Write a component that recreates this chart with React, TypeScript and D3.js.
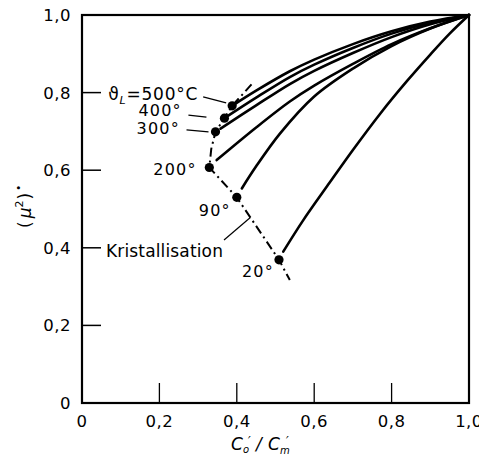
import React from 'react';
import * as d3 from 'd3';

// Axis ticks
const xTicks = [0, 0.2, 0.4, 0.6, 0.8, 1.0];
const yTicks = [0, 0.2, 0.4, 0.6, 0.8, 1.0];

// Melt temperature series: [C'o/C'm, (mu^2)*]
const curve500: [number, number][] = [
  [0.388, 0.766], [0.45, 0.805], [0.537, 0.855], [0.6, 0.885], [0.7, 0.925],
  [0.8, 0.958], [0.9, 0.983], [1.0, 1.0],
];
const curve400: [number, number][] = [
  [0.368, 0.734], [0.45, 0.787], [0.537, 0.84], [0.6, 0.872], [0.7, 0.915],
  [0.8, 0.952], [0.9, 0.98], [1.0, 1.0],
];
const curve300: [number, number][] = [
  [0.358, 0.707], [0.45, 0.767], [0.537, 0.822], [0.6, 0.856], [0.7, 0.902],
  [0.8, 0.943], [0.9, 0.976], [1.0, 1.0],
];
const curve200: [number, number][] = [
  [0.348, 0.626], [0.45, 0.71], [0.537, 0.777], [0.6, 0.818], [0.7, 0.874],
  [0.8, 0.925], [0.9, 0.966], [1.0, 1.0],
];
const curve90: [number, number][] = [
  [0.413, 0.553], [0.45, 0.61], [0.512, 0.695], [0.6, 0.79], [0.7, 0.862],
  [0.8, 0.92], [0.9, 0.965], [1.0, 1.0],
];
const curve20: [number, number][] = [
  [0.52, 0.39], [0.571, 0.47], [0.64, 0.568], [0.7, 0.652], [0.77, 0.745],
  [0.84, 0.83], [0.9, 0.898], [0.95, 0.952], [1.0, 1.0],
];

// Crystallisation line (dash-dot)
const crystallisation: [number, number][] = [
  [0.438, 0.821], [0.388, 0.766], [0.368, 0.734], [0.345, 0.699], [0.334, 0.655],
  [0.329, 0.607], [0.4, 0.53], [0.509, 0.369], [0.537, 0.317],
];

// Onset points with labels
const onsetLabels = ['500°C', '400°', '300°', '200°', '90°', '20°'];
const onsetX = [0.388, 0.368, 0.345, 0.329, 0.4, 0.509];
const onsetY = [0.766, 0.734, 0.699, 0.607, 0.53, 0.369];

const series = [curve500, curve400, curve300, curve200, curve90, curve20];

const W = 479;
const H = 456;
const plot = { left: 82, right: 469, top: 15, bottom: 403 };
const FONT = '"DejaVu Sans", sans-serif';

const fmt = (v: number) => (v === 0 ? '0' : d3.format('.1f')(v).replace('.', ','));

export default function App() {
  const x = d3.scaleLinear().domain([0, 1]).range([plot.left, plot.right]);
  const y = d3.scaleLinear().domain([0, 1]).range([plot.bottom, plot.top]);

  const line = d3
    .line<[number, number]>()
    .x((d) => x(d[0]))
    .y((d) => y(d[1]))
    .curve(d3.curveCatmullRom.alpha(0.5));

  const dashLine = d3
    .line<[number, number]>()
    .x((d) => x(d[0]))
    .y((d) => y(d[1]))
    .curve(d3.curveLinear);

  // label start positions relative to each onset dot (pixels)
  const labelOff = [
    { dx: -124, dy: -6 },
    { dx: -86, dy: -2 },
    { dx: -79, dy: 2 },
    { dx: -56, dy: 7.5 },
    { dx: -38, dy: 18.5 },
    { dx: -37, dy: 17 },
  ];
  const leaders = [
    { x1: -29, y1: -9, x2: -6, y2: -3 },
    { x1: -36, y1: -3, x2: -18, y2: -1 },
    { x1: -29, y1: -2, x2: -7, y2: 0 },
  ];

  const p = (i: number) => ({ px: x(onsetX[i]), py: y(onsetY[i]) });

  return (
    <svg
      width={W}
      height={H}
      style={{ position: 'absolute', left: 0, top: 0, background: '#fff' }}
      fontFamily={FONT}
    >
      <rect x={0} y={0} width={W} height={H} fill="#fff" />

      {/* frame */}
      <rect
        x={plot.left}
        y={plot.top}
        width={plot.right - plot.left}
        height={plot.bottom - plot.top}
        fill="none"
        stroke="#000"
        strokeWidth={2.2}
      />

      {/* y ticks */}
      {yTicks.map((t) => (
        <g key={'y' + t}>
          {t > 0 && t < 1 && (
            <line x1={plot.left} x2={plot.left + 19} y1={y(t)} y2={y(t)} stroke="#000" strokeWidth={1.5} />
          )}
          <text x={71} y={y(t) + 6} textAnchor="end" fontSize={16.5} letterSpacing={0.5}>
            {fmt(t)}
          </text>
        </g>
      ))}

      {/* x ticks */}
      {xTicks.map((t) => (
        <g key={'x' + t}>
          {t > 0 && t < 1 && (
            <line x1={x(t)} x2={x(t)} y1={plot.bottom} y2={plot.bottom - 20} stroke="#000" strokeWidth={1.3} />
          )}
          <text x={x(t)} y={427} textAnchor="middle" fontSize={16.5} letterSpacing={0.5}>
            {fmt(t)}
          </text>
        </g>
      ))}

      {/* curves */}
      {series.map((s, i) => (
        <path key={'c' + i} d={line(s) || ''} fill="none" stroke="#000" strokeWidth={2.6} strokeLinecap="round" />
      ))}

      {/* crystallisation line */}
      <path
        d={dashLine(crystallisation) || ''}
        fill="none"
        stroke="#000"
        strokeWidth={2}
        strokeDasharray="9,4,2,4"
      />

      {/* onset dots */}
      {onsetX.map((v, i) => (
        <circle key={'d' + i} cx={x(v)} cy={y(onsetY[i])} r={4.6} fill="#000" />
      ))}

      {/* leaders for the upper labels */}
      {leaders.map((l, i) => {
        const { px, py } = p(i);
        return (
          <line key={'l' + i} x1={px + l.x1} y1={py + l.y1} x2={px + l.x2} y2={py + l.y2} stroke="#000" strokeWidth={1.3} />
        );
      })}

      {/* onset labels */}
      {onsetLabels.map((lab, i) => {
        const { px, py } = p(i);
        const o = labelOff[i];
        if (i === 0) {
          return (
            <text key={'t' + i} x={px + o.dx} y={py + o.dy} fontSize={17} letterSpacing={0.8}>
              <tspan>ϑ</tspan>
              <tspan fontSize={11} dy={4} fontStyle="italic">L</tspan>
              <tspan dy={-4}>={lab}</tspan>
            </text>
          );
        }
        return (
          <text key={'t' + i} x={px + o.dx} y={py + o.dy} fontSize={16} letterSpacing={1.2}>
            {lab}
          </text>
        );
      })}

      {/* Kristallisation label with leader to the dash-dot line */}
      <text x={106} y={257} fontSize={17} letterSpacing={0.15}>
        Kristallisation
      </text>
      <line x1={224} y1={240} x2={x(0.435)} y2={y(0.478)} stroke="#000" strokeWidth={1.2} />

      {/* x axis title: C'o / C'm */}
      <text x={231} y={450} fontSize={17} fontStyle="italic">C</text>
      <text x={248} y={445} fontSize={12} fontStyle="italic">′</text>
      <text x={243} y={453} fontSize={10} fontStyle="italic">o</text>
      <text x={256} y={450} fontSize={17} fontStyle="italic">/</text>
      <text x={268} y={450} fontSize={17} fontStyle="italic">C</text>
      <text x={286} y={445} fontSize={12} fontStyle="italic">′</text>
      <text x={280} y={454} fontSize={10} fontStyle="italic">m</text>

      {/* y axis title: (mu^2)* */}
      <text transform="translate(31,228) rotate(-90)" fontSize={17}>
        (<tspan fontStyle="italic" dx={3}>μ</tspan>
        <tspan fontSize={11} dy={-8}>2</tspan>
        <tspan dy={8} dx={1}>)</tspan>
        <tspan fontSize={11} dy={-9} dx={2}>•</tspan>
      </text>
    </svg>
  );
}
